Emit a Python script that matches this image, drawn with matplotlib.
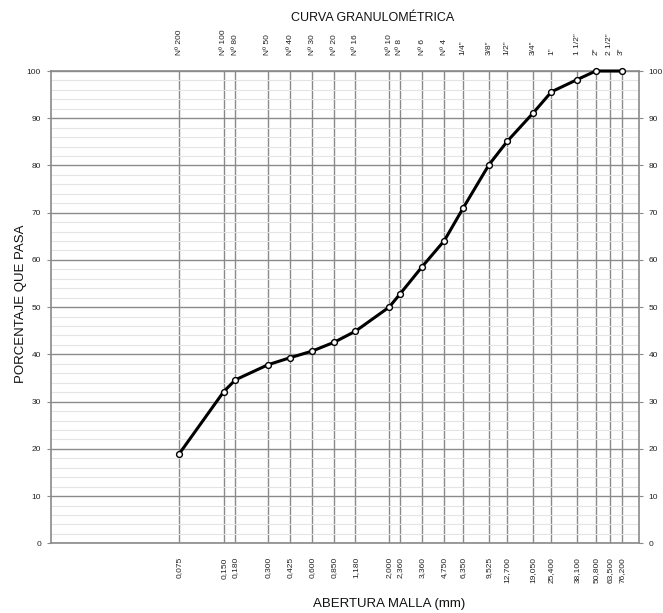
import matplotlib
matplotlib.use("Agg")
import matplotlib.pyplot as plt
from matplotlib.ticker import MultipleLocator, NullLocator

plt.rcParams['font.family'] = ['Liberation Sans', 'DejaVu Sans']

# Sieve openings (mm), names, labels
aberturas = [0.075, 0.150, 0.180, 0.300, 0.425, 0.600, 0.850, 1.180, 2.000, 2.360,
             3.360, 4.750, 6.350, 9.525, 12.700, 19.050, 25.400, 38.100, 50.800, 63.500, 76.200]
tamices = ["Nº 200", "Nº 100", "Nº 80", "Nº 50", "Nº 40", "Nº 30", "Nº 20", "Nº 16",
           "Nº 10", "Nº 8", "Nº 6", "Nº 4", '1/4"', '3/8"', '1/2"', '3/4"', '1"',
           '1 1/2"', '2"', '2 1/2"', '3"']
etiquetas_abertura = ["0,075", "0,150", "0,180", "0,300", "0,425", "0,600", "0,850", "1,180",
                      "2,000", "2,360", "3,360", "4,750", "6,350", "9,525", "12,700", "19,050",
                      "25,400", "38,100", "50,800", "63,500", "76,200"]

# Measured points (% passing)
tamiz_mm = [0.075, 0.150, 0.180, 0.300, 0.425, 0.600, 0.850, 1.180, 2.000, 2.360,
            3.360, 4.750, 6.350, 9.525, 12.700, 19.050, 25.400, 38.100, 50.800, 76.200]
porcentaje_pasa = [19.0, 32.1, 34.6, 37.8, 39.3, 40.7, 42.6, 44.9, 50.0, 52.7,
                   58.6, 64.1, 70.9, 80.1, 85.1, 91.1, 95.6, 98.2, 100.0, 100.0]

W, H = 663, 613
fig = plt.figure(figsize=(W / 100, H / 100), dpi=100)
ax = fig.add_axes([50.7 / W, 1 - 543.3 / H, (639 - 50.7) / W, (543.3 - 71) / H])

ax.set_xscale('log')
ax.set_xlim(0.01, 100)
ax.set_ylim(0, 100)

grid_c = '#8a8a8a'
# vertical grid at sieve sizes
for a in aberturas:
    ax.axvline(a, color=grid_c, lw=1.0, zorder=1)
# horizontal grid
ax.yaxis.set_major_locator(MultipleLocator(10))
ax.yaxis.set_minor_locator(MultipleLocator(2))
ax.grid(which='major', axis='y', color=grid_c, lw=1.0, zorder=1)
ax.grid(which='minor', axis='y', color='#e4e4e4', lw=0.8, zorder=0)
ax.xaxis.set_major_locator(NullLocator())
ax.xaxis.set_minor_locator(NullLocator())

for s in ax.spines.values():
    s.set_color(grid_c)
    s.set_linewidth(1.2)

ax.tick_params(axis='y', which='major', labelsize=6, length=3, width=0.8, color=grid_c,
               left=True, right=True, labelleft=True, labelright=True, pad=4, labelcolor='#222222')
ax.tick_params(axis='y', which='minor', length=0)

ax.plot(tamiz_mm, porcentaje_pasa, color='black', lw=2.2, marker='o', markersize=4.2,
        markerfacecolor='white', markeredgecolor='black', markeredgewidth=1.0, zorder=5,
        clip_on=False)

# top sieve names and bottom openings
for a, t, e in zip(aberturas, tamices, etiquetas_abertura):
    ax.annotate(t, xy=(a, 1), xycoords=('data', 'axes fraction'), xytext=(0, 11.5),
                textcoords='offset points', rotation=90, ha='center', va='bottom',
                fontsize=6, color='#222222')
    ax.annotate(e, xy=(a, 0), xycoords=('data', 'axes fraction'), xytext=(0, -10),
                textcoords='offset points', rotation=90, ha='center', va='top',
                fontsize=6, color='#222222')

fig.text(372.5 / W, 1 - 17.7 / H, "CURVA GRANULOMÉTRICA", ha='center', va='center',
         fontsize=9, color='#111111')
fig.text(389.5 / W, 1 - 604 / H, "ABERTURA MALLA (mm)", ha='center', va='center',
         fontsize=9.5, color='#111111')
fig.text(21 / W, 1 - 304 / H, "PORCENTAJE QUE PASA", ha='center', va='center',
         rotation=90, fontsize=9.5, color='#111111')

fig.savefig("out.png", dpi=100)
